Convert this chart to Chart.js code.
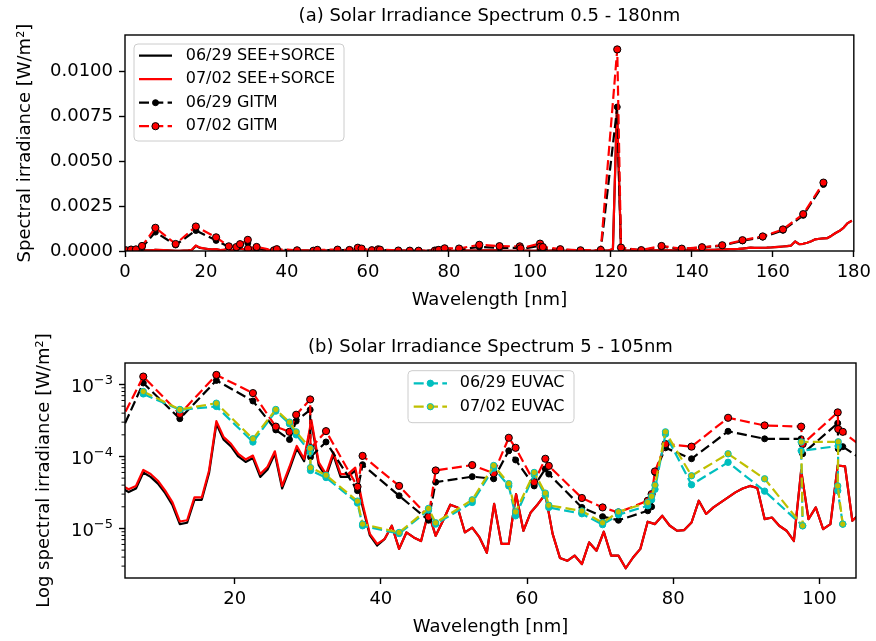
<!DOCTYPE html>
<html>
<head>
<meta charset="utf-8">
<title>Solar Irradiance Spectrum</title>
<script src="https://cdn.jsdelivr.net/npm/chart.js@4.4.1/dist/chart.umd.min.js"></script>
<style>
  html, body { margin: 0; padding: 0; background: #fff; }
  #wrap { position: relative; width: 876px; height: 641px; overflow: hidden; }
  .panel { position: absolute; left: 0; width: 876px; }
  #pa { top: 0; height: 320px; }
  #pb { top: 320px; height: 321px; }
  canvas { display: block; }
</style>
</head>
<body>
<div id="wrap">
  <div class="panel" id="pa"><canvas id="ca" width="876" height="320"></canvas></div>
  <div class="panel" id="pb"><canvas id="cb" width="876" height="321"></canvas></div>
</div>
<script>
// ---- 1 nm SEE+SORCE spectrum (bin centres, nm) ----
const seeWave = [
  0.5, 1.5, 2.5, 3.5, 4.5, 5.5, 6.5, 7.5, 8.5, 9.5,
  10.5, 11.5, 12.5, 13.5, 14.5, 15.5, 16.5, 17.5, 18.5, 19.5,
  20.5, 21.5, 22.5, 23.5, 24.5, 25.5, 26.5, 27.5, 28.5, 29.5,
  30.5, 31.5, 32.5, 33.5, 34.5, 35.5, 36.5, 37.5, 38.5, 39.5,
  40.5, 41.5, 42.5, 43.5, 44.5, 45.5, 46.5, 47.5, 48.5, 49.5,
  50.5, 51.5, 52.5, 53.5, 54.5, 55.5, 56.5, 57.5, 58.5, 59.5,
  60.5, 61.5, 62.5, 63.5, 64.5, 65.5, 66.5, 67.5, 68.5, 69.5,
  70.5, 71.5, 72.5, 73.5, 74.5, 75.5, 76.5, 77.5, 78.5, 79.5,
  80.5, 81.5, 82.5, 83.5, 84.5, 85.5, 86.5, 87.5, 88.5, 89.5,
  90.5, 91.5, 92.5, 93.5, 94.5, 95.5, 96.5, 97.5, 98.5, 99.5,
  100.5, 101.5, 102.5, 103.5, 104.5, 105.5, 106.5, 107.5, 108.5, 109.5,
  110.5, 111.5, 112.5, 113.5, 114.5, 115.5, 116.5, 117.5, 118.5, 119.5,
  120.5, 121.5, 122.5, 123.5, 124.5, 125.5, 126.5, 127.5, 128.5, 129.5,
  130.5, 131.5, 132.5, 133.5, 134.5, 135.5, 136.5, 137.5, 138.5, 139.5,
  140.5, 141.5, 142.5, 143.5, 144.5, 145.5, 146.5, 147.5, 148.5, 149.5,
  150.5, 151.5, 152.5, 153.5, 154.5, 155.5, 156.5, 157.5, 158.5, 159.5,
  160.5, 161.5, 162.5, 163.5, 164.5, 165.5, 166.5, 167.5, 168.5, 169.5,
  170.5, 171.5, 172.5, 173.5, 174.5, 175.5, 176.5, 177.5, 178.5, 179.5
];

// 06/29 SEE+SORCE irradiance [W/m^2]
const see0629 = [
  3e-7, 1.8e-6, 4.6e-6, 1.0e-5, 3.7e-5, 3.2e-5, 3.6e-5, 6.0e-5, 5.2e-5, 4.2e-5,
  3.1e-5, 2.1e-5, 1.15e-5, 1.2e-5, 2.5e-5, 2.5e-5, 5.9e-5, 2.85e-4, 1.71e-4, 1.38e-4,
  1.0e-4, 8.4e-5, 9.5e-5, 5.2e-5, 6.6e-5, 1.09e-4, 3.6e-5, 6.6e-5, 1.29e-4, 8.6e-5,
  2.95e-4, 7.6e-5, 5.2e-5, 1.05e-4, 5.2e-5, 5.2e-5, 6.4e-5, 2.0e-5, 8.0e-6, 5.8e-6,
  7.1e-6, 1.09e-5, 5.2e-6, 8.8e-6, 7.5e-6, 6.7e-6, 1.67e-5, 7.9e-6, 1.28e-5, 2.14e-5,
  1.96e-5, 8.8e-6, 1.03e-5, 7.5e-6, 4.6e-6, 2.19e-5, 6.1e-6, 6.1e-6, 3.0e-5, 9.3e-6,
  1.67e-5, 2.19e-5, 3.0e-5, 8.4e-6, 3.9e-6, 3.55e-6, 4.2e-6, 3.2e-6, 6.4e-6, 4.9e-6,
  9.0e-6, 4.2e-6, 4.2e-6, 2.8e-6, 3.95e-6, 5.2e-6, 1.24e-5, 1.15e-5, 1.5e-5, 1.1e-5,
  9.3e-6, 9.5e-6, 1.21e-5, 2.43e-5, 1.59e-5, 1.96e-5, 2.3e-5, 2.7e-5, 3.17e-5, 3.6e-5,
  3.9e-5, 3.65e-5, 1.35e-5, 1.42e-5, 1.09e-5, 9.3e-6, 6.7e-6, 6.4e-5, 1.35e-5, 1.96e-5,
  9.8e-6, 1.15e-5, 7.5e-5, 7.3e-5, 1.28e-5, 1.6e-5, 1.2e-5, 1.5e-5, 1.2e-5, 1.0e-5,
  1.0e-5, 1.0e-5, 1.0e-5, 1.1e-5, 1.2e-5, 1.5e-5, 1.6e-5, 2.0e-5, 2.2e-5, 3.5e-5,
  1.0e-4, 7.9e-3, 1.7e-4, 3.5e-5, 2.8e-5, 2.5e-5, 2.6e-5, 2.6e-5, 2.8e-5, 3.0e-5,
  3.8e-5, 3.2e-5, 3.2e-5, 3.4e-5, 3.6e-5, 4.0e-5, 3.8e-5, 4.0e-5, 4.4e-5, 4.8e-5,
  5.0e-5, 5.2e-5, 5.6e-5, 6.0e-5, 6.5e-5, 7.0e-5, 7.6e-5, 8.2e-5, 9.0e-5, 1.0e-4,
  1.08e-4, 1.15e-4, 1.35e-4, 1.6e-4, 1.85e-4, 1.75e-4, 1.75e-4, 1.8e-4, 1.85e-4, 1.95e-4,
  2.1e-4, 2.3e-4, 2.5e-4, 2.7e-4, 3.0e-4, 5.3e-4, 3.8e-4, 4.0e-4, 4.6e-4, 5.4e-4,
  6.5e-4, 6.8e-4, 7.0e-4, 7.2e-4, 8.5e-4, 1.0e-3, 1.12e-3, 1.3e-3, 1.55e-3, 1.68e-3
];

// 07/02 SEE+SORCE irradiance [W/m^2]
const see0702 = [
  3e-7, 2e-6, 5e-6, 1.1e-5, 4.0e-5, 3.5e-5, 3.9e-5, 6.5e-5, 5.7e-5, 4.6e-5,
  3.35e-5, 2.3e-5, 1.25e-5, 1.3e-5, 2.7e-5, 2.7e-5, 6.4e-5, 3.1e-4, 1.86e-4, 1.5e-4,
  1.09e-4, 9.1e-5, 1.03e-4, 5.7e-5, 7.2e-5, 1.18e-4, 3.9e-5, 7.2e-5, 1.4e-4, 9.3e-5,
  3.2e-4, 8.3e-5, 5.7e-5, 1.14e-4, 5.7e-5, 5.7e-5, 7.0e-5, 2.2e-5, 8.4e-6, 6.1e-6,
  7.1e-6, 1.09e-5, 5.2e-6, 8.8e-6, 7.5e-6, 6.7e-6, 1.67e-5, 7.9e-6, 1.28e-5, 2.14e-5,
  1.96e-5, 8.8e-6, 1.03e-5, 7.5e-6, 4.6e-6, 2.19e-5, 6.1e-6, 6.1e-6, 3.0e-5, 9.3e-6,
  1.67e-5, 2.19e-5, 3.0e-5, 8.4e-6, 3.9e-6, 3.55e-6, 4.2e-6, 3.2e-6, 6.4e-6, 4.9e-6,
  9.0e-6, 4.2e-6, 4.2e-6, 2.8e-6, 3.95e-6, 5.2e-6, 1.24e-5, 1.15e-5, 1.5e-5, 1.1e-5,
  9.3e-6, 9.5e-6, 1.21e-5, 2.43e-5, 1.59e-5, 1.96e-5, 2.3e-5, 2.7e-5, 3.17e-5, 3.6e-5,
  3.9e-5, 3.65e-5, 1.35e-5, 1.42e-5, 1.09e-5, 9.3e-6, 6.7e-6, 6.4e-5, 1.35e-5, 1.96e-5,
  9.8e-6, 1.15e-5, 7.5e-5, 7.3e-5, 1.28e-5, 1.6e-5, 1.2e-5, 1.5e-5, 1.2e-5, 1.0e-5,
  1.0e-5, 1.0e-5, 1.0e-5, 1.1e-5, 1.2e-5, 1.5e-5, 1.6e-5, 2.0e-5, 2.2e-5, 3.5e-5,
  1.1e-4, 8.0e-3, 1.8e-4, 3.5e-5, 2.8e-5, 2.5e-5, 2.6e-5, 2.6e-5, 2.8e-5, 3.0e-5,
  3.8e-5, 3.2e-5, 3.2e-5, 3.4e-5, 3.6e-5, 4.0e-5, 3.8e-5, 4.0e-5, 4.4e-5, 4.8e-5,
  5.0e-5, 5.2e-5, 5.6e-5, 6.0e-5, 6.5e-5, 7.0e-5, 7.6e-5, 8.2e-5, 9.0e-5, 1.0e-4,
  1.08e-4, 1.15e-4, 1.35e-4, 1.6e-4, 1.85e-4, 1.75e-4, 1.75e-4, 1.8e-4, 1.85e-4, 1.95e-4,
  2.1e-4, 2.3e-4, 2.5e-4, 2.7e-4, 3.0e-4, 5.3e-4, 3.8e-4, 4.0e-4, 4.6e-4, 5.4e-4,
  6.5e-4, 6.8e-4, 7.0e-4, 7.2e-4, 8.5e-4, 1.0e-3, 1.12e-3, 1.3e-3, 1.55e-3, 1.68e-3
];

// ---- GITM wavelength bins (centres / lines, nm), in drawing order ----
const gitmWave = [
  0.25, 1.5, 2.7, 4.2,
  7.5, 12.5, 17.5, 22.5, 25.63, 27.5, 28.415, 30.331, 30.378, 32.5,
  36.807, 37.5, 42.5, 46.522, 47.5, 52.5, 55.437, 57.5, 58.433, 60.976,
  62.5, 62.973, 67.5, 70.336, 72.5, 76.515, 77.041, 77.5, 78.936, 82.5,
  87.5, 92.5, 97.5, 97.702, 102.5, 102.572, 103.191,
  107.5, 112.5, 117.5, 121.57, 122.5, 127.5, 132.5, 137.5, 142.5,
  147.5, 152.5, 157.5, 162.5, 167.5, 172.5
];
const gitm0629 = [
  3e-5, 6e-5, 7e-5, 1.9e-4,
  1.05e-3, 3.35e-4, 1.14e-3, 5.9e-4, 2.34e-4, 1.72e-4, 3.1e-4, 4.45e-4, 9.8e-5, 1.59e-4,
  3.35e-5, 7.7e-5, 2.85e-5, 1.3e-5, 4.4e-5, 5.25e-5, 4.9e-5, 1.2e-4, 8.95e-5, 3.9e-5,
  6.7e-5, 5.7e-5, 1.96e-5, 1.46e-5, 1.3e-5, 1.76e-5, 2.0e-5, 6.0e-5, 1.32e-4, 9.3e-5,
  2.24e-4, 1.76e-4, 1.76e-4, 1.09e-4, 2.9e-4, 1.28e-4, 1.37e-4,
  7e-5, 3e-5, 5e-5, 8.0e-3, 1.5e-4, 4e-5, 2.4e-4, 1.1e-4, 1.9e-4,
  3.0e-4, 5.6e-4, 7.7e-4, 1.15e-3, 1.98e-3, 3.7e-3
];
const gitm0702 = [
  4e-5, 8e-5, 9e-5, 2.8e-4,
  1.29e-3, 3.9e-4, 1.36e-3, 7.6e-4, 2.6e-4, 2.2e-4, 3.8e-4, 6.2e-4, 1.3e-4, 2.25e-4,
  3.8e-5, 1.02e-4, 3.9e-5, 1.45e-5, 6.4e-5, 7.6e-5, 5.85e-5, 1.82e-4, 1.32e-4, 4.4e-5,
  9.3e-5, 7.4e-5, 2.65e-5, 1.96e-5, 1.67e-5, 2.43e-5, 3.0e-5, 6.2e-5, 1.49e-4, 1.37e-4,
  3.45e-4, 2.7e-4, 2.6e-4, 1.49e-4, 4.1e-4, 2.4e-4, 2.2e-4,
  1.0e-4, 4e-5, 6e-5, 1.12e-2, 1.9e-4, 5e-5, 2.8e-4, 1.3e-4, 2.1e-4,
  3.2e-4, 6.0e-4, 8.1e-4, 1.2e-3, 2.05e-3, 3.8e-3
];

// ---- EUVAC 37-bin model (nm), in drawing order ----
const euvacWave = [
  7.5, 12.5, 17.5, 22.5, 25.63, 27.5, 28.415, 30.331, 30.378, 32.5,
  36.807, 37.5, 42.5, 46.522, 47.5, 52.5, 55.437, 57.5, 58.433, 60.976,
  62.5, 62.973, 67.5, 70.336, 72.5, 76.515, 77.041, 77.5, 78.936, 82.5,
  87.5, 92.5, 97.702, 97.5, 102.572, 102.5, 103.191
];
const euvac0629 = [
  7.4e-4, 4.45e-4, 4.96e-4, 1.59e-4, 4.27e-4, 2.85e-4, 2.0e-4, 1.15e-4, 6.4e-5, 5.1e-5,
  2.25e-5, 1.09e-5, 8.5e-6, 1.8e-5, 1.15e-5, 2.3e-5, 6.9e-5, 3.9e-5, 1.5e-5, 5.6e-5,
  2.85e-5, 1.96e-5, 1.6e-5, 1.13e-5, 1.55e-5, 2.07e-5, 2.5e-5, 3.5e-5, 2.05e-4, 4.05e-5,
  8.3e-5, 3.3e-5, 1.09e-5, 1.2e-4, 1.4e-4, 3.35e-5, 1.15e-5
];
const euvac0702 = [
  8.0e-4, 4.5e-4, 5.5e-4, 1.76e-4, 4.5e-4, 3.0e-4, 2.2e-4, 1.3e-4, 7.0e-5, 5.5e-5,
  2.4e-5, 1.15e-5, 8.8e-6, 1.9e-5, 1.2e-5, 2.5e-5, 7.5e-5, 4.2e-5, 1.7e-5, 6.0e-5,
  3.1e-5, 2.1e-5, 1.75e-5, 1.2e-5, 1.7e-5, 2.3e-5, 2.8e-5, 4.0e-5, 2.2e-4, 5.4e-5,
  1.09e-4, 4.9e-5, 1.09e-5, 1.59e-4, 1.6e-4, 3.9e-5, 1.15e-5
];

// ---- axis tick settings ----
const linTicksX = [0, 20, 40, 60, 80, 100, 120, 140, 160, 180];
const linTicksY = [0, 0.0025, 0.005, 0.0075, 0.01];
const logTicksX = [20, 40, 60, 80, 100];
const logDecades = [-6, -5, -4, -3];

// ---------------------------------------------------------------
const FONT = "'DejaVu Sans', sans-serif";
Chart.defaults.font.family = FONT;
Chart.defaults.color = '#000';

const CYAN = '#00bfbf';
const OLIVE = '#bfbf00';
const DASH = [10, 4.3];

function points(xs, ys) {
  return xs.map((x, i) => ({ x: x, y: ys[i] }));
}

function solid(label, xs, ys, color, order) {
  return {
    label, data: points(xs, ys), order,
    borderColor: color, backgroundColor: color, borderWidth: 2.2,
    pointRadius: 0, pointHoverRadius: 0, fill: false, tension: 0,
    borderJoinStyle: 'round', clip: 0
  };
}

function dashed(label, xs, ys, color, face, edge, radius, order) {
  return {
    label, data: points(xs, ys), order,
    borderColor: color, backgroundColor: face, borderWidth: 2.2, borderDash: DASH,
    pointRadius: radius, pointHoverRadius: radius,
    pointBackgroundColor: face, pointBorderColor: edge, pointBorderWidth: 1,
    fill: false, tension: 0, borderJoinStyle: 'round', clip: 0
  };
}

// black box around the plotting area
const framePlugin = {
  id: 'frame',
  afterDraw(chart) {
    const { ctx, chartArea: a } = chart;
    ctx.save();
    ctx.strokeStyle = '#000';
    ctx.lineWidth = 1.4;
    ctx.strokeRect(a.left, a.top, a.right - a.left, a.bottom - a.top);
    ctx.restore();
  }
};

// log axis: short unlabelled ticks between decades, and 10^n labels
const logAxisPlugin = {
  id: 'logAxis',
  afterDraw(chart) {
    const s = chart.scales.y;
    if (!s || s.type !== 'logarithmic') return;
    const ctx = chart.ctx;
    ctx.save();
    ctx.strokeStyle = '#000';
    ctx.fillStyle = '#000';
    ctx.lineWidth = 1;
    s.ticks.forEach(t => {
      const y = s.getPixelForValue(t.value);
      if (!t.major) {
        ctx.beginPath();
        ctx.moveTo(s.right, y);
        ctx.lineTo(s.right - 3.5, y);
        ctx.stroke();
        return;
      }
      const base = '10';
      const exp = '\u2212' + String(Math.abs(Math.round(Math.log10(t.value))));
      ctx.font = '18px ' + FONT;
      const wb = ctx.measureText(base).width;
      ctx.font = '13px ' + FONT;
      const we = ctx.measureText(exp).width;
      const xr = s.right - 6 - 6;
      ctx.textBaseline = 'alphabetic';
      ctx.textAlign = 'left';
      ctx.font = '18px ' + FONT;
      ctx.fillText(base, xr - we - wb, y + 7.5);
      ctx.font = '13px ' + FONT;
      ctx.fillText(exp, xr - we, y - 0.5);
    });
    ctx.restore();
  }
};

// legend box drawn inside the plotting area
const boxLegendPlugin = {
  id: 'boxLegend',
  afterDraw(chart, args, o) {
    if (!o || !o.items) return;
    const ctx = chart.ctx;
    ctx.save();
    ctx.beginPath();
    ctx.roundRect(o.x, o.y, o.w, o.h, 4);
    ctx.fillStyle = 'rgba(255,255,255,0.8)';
    ctx.fill();
    ctx.strokeStyle = '#cccccc';
    ctx.lineWidth = 1;
    ctx.stroke();
    ctx.font = '16px ' + FONT;
    ctx.textBaseline = 'middle';
    ctx.textAlign = 'left';
    o.items.forEach((di, k) => {
      const ds = chart.data.datasets[di];
      const cy = o.y + o.firstRow + k * o.rowGap;
      const x0 = o.x + o.h0, x1 = o.x + o.h1;
      ctx.beginPath();
      ctx.setLineDash(ds.borderDash || []);
      ctx.strokeStyle = ds.borderColor;
      ctx.lineWidth = ds.borderWidth;
      ctx.moveTo(x0, cy);
      ctx.lineTo(x1, cy);
      ctx.stroke();
      ctx.setLineDash([]);
      if (ds.pointRadius > 0) {
        ctx.beginPath();
        ctx.arc((x0 + x1) / 2, cy, ds.pointRadius, 0, Math.PI * 2);
        ctx.fillStyle = ds.pointBackgroundColor;
        ctx.fill();
        ctx.lineWidth = ds.pointBorderWidth;
        ctx.strokeStyle = ds.pointBorderColor;
        ctx.stroke();
      }
      ctx.fillStyle = '#000';
      ctx.fillText(ds.label, o.x + o.textX, cy);
    });
    ctx.restore();
  }
};

function axisGrid(tickColor) {
  return {
    display: true, drawOnChartArea: false, drawTicks: true,
    tickLength: 6, tickWidth: 1.4, tickColor: tickColor || '#000'
  };
}

const tickFont = { family: FONT, size: 18 };
const labelFont = { family: FONT, size: 18 };

// ---------------- (a) linear panel ----------------
new Chart(document.getElementById('ca'), {
  type: 'line',
  data: {
    datasets: [
      solid('06/29 SEE+SORCE', seeWave, see0629, '#000000', 4),
      solid('07/02 SEE+SORCE', seeWave, see0702, '#ff0000', 3),
      dashed('06/29 GITM', gitmWave, gitm0629, '#000000', '#000000', '#000000', 3, 2),
      dashed('07/02 GITM', gitmWave, gitm0702, '#ff0000', '#ff0000', '#000000', 3.6, 1)
    ]
  },
  options: {
    responsive: false, animation: false, events: [],
    layout: { padding: { left: 0, right: 20, top: 0, bottom: 0 } },
    plugins: {
      legend: { display: false },
      tooltip: { enabled: false },
      title: {
        display: true, fullSize: false,
        text: '(a) Solar Irradiance Spectrum 0.5 - 180nm',
        font: { family: FONT, size: 18, weight: 'normal' }, color: '#000',
        padding: { top: 6, bottom: 7.4 }
      },
      boxLegend: { items: [0, 1, 2, 3], x: 134, y: 44, w: 210, h: 97,
                   firstRow: 11.7, rowGap: 23.5, h0: 5, h1: 38, textX: 51.7 }
    },
    scales: {
      x: {
        type: 'linear', min: 0, max: 180,
        afterBuildTicks: s => { s.ticks = linTicksX.map(v => ({ value: v })); },
        ticks: { font: tickFont, color: '#000', padding: 5, maxRotation: 0, autoSkip: false },
        grid: axisGrid(), border: { display: false },
        title: { display: true, text: 'Wavelength [nm]', font: labelFont, color: '#000',
                 padding: { top: 0, bottom: 9.2 } },
        afterFit: s => { s.height = 69; }
      },
      y: {
        type: 'linear', min: 0, max: 0.012,
        afterBuildTicks: s => { s.ticks = linTicksY.map(v => ({ value: v })); },
        ticks: { font: tickFont, color: '#000', padding: 6, autoSkip: false,
                 callback: v => Number(v).toFixed(4) },
        grid: axisGrid(), border: { display: false },
        title: { display: true, text: 'Spectral irradiance [W/m²]', font: labelFont, color: '#000',
                 padding: { top: 15, bottom: 0 } },
        afterFit: s => { s.width = 125; }
      }
    }
  },
  plugins: [framePlugin, boxLegendPlugin]
});

// ---------------- (b) logarithmic panel ----------------
function isDecade(v) {
  const e = Math.log10(v);
  return Math.abs(e - Math.round(e)) < 1e-6;
}

const logMin = 2.05e-6, logMax = 1.99e-3;

new Chart(document.getElementById('cb'), {
  type: 'line',
  data: {
    datasets: [
      solid('06/29 SEE+SORCE', seeWave, see0629, '#000000', 6),
      solid('07/02 SEE+SORCE', seeWave, see0702, '#ff0000', 5),
      dashed('06/29 GITM', gitmWave, gitm0629, '#000000', '#000000', '#000000', 3, 4),
      dashed('07/02 GITM', gitmWave, gitm0702, '#ff0000', '#ff0000', '#000000', 3.6, 3),
      dashed('06/29 EUVAC', euvacWave, euvac0629, CYAN, CYAN, CYAN, 3.2, 2),
      dashed('07/02 EUVAC', euvacWave, euvac0702, OLIVE, OLIVE, CYAN, 3.2, 1)
    ]
  },
  options: {
    responsive: false, animation: false, events: [],
    layout: { padding: { left: 0, right: 20, top: 0, bottom: 0 } },
    plugins: {
      legend: { display: false },
      tooltip: { enabled: false },
      title: {
        display: true, fullSize: false,
        text: '(b) Solar Irradiance Spectrum 5 - 105nm',
        font: { family: FONT, size: 18, weight: 'normal' }, color: '#000',
        padding: { top: 17, bottom: 4.4 }
      },
      boxLegend: { items: [4, 5], x: 408, y: 50.7, w: 166, h: 52,
                   firstRow: 12.6, rowGap: 23.4, h0: 5.7, h1: 39, textX: 51.7 }
    },
    scales: {
      x: {
        type: 'linear', min: 5, max: 105,
        afterBuildTicks: s => { s.ticks = logTicksX.map(v => ({ value: v })); },
        ticks: { font: tickFont, color: '#000', padding: 5, maxRotation: 0, autoSkip: false },
        grid: axisGrid(), border: { display: false },
        title: { display: true, text: 'Wavelength [nm]', font: labelFont, color: '#000',
                 padding: { top: 0, bottom: 3.2 } },
        afterFit: s => { s.height = 63; }
      },
      y: {
        type: 'logarithmic', min: logMin, max: logMax,
        afterBuildTicks: s => {
          const t = [];
          logDecades.forEach(e => {
            for (let m = 1; m <= 9; m++) {
              const v = m * Math.pow(10, e);
              if (v >= logMin && v <= logMax) t.push({ value: v, major: m === 1 });
            }
          });
          s.ticks = t;
        },
        ticks: { font: tickFont, color: '#000', padding: 6, autoSkip: false,
                 callback: () => '' },
        grid: {
          display: true, drawOnChartArea: false, drawTicks: true,
          tickLength: 6, tickWidth: 1.4,
          tickColor: c => (c.tick && isDecade(c.tick.value)) ? '#000' : 'rgba(0,0,0,0)'
        },
        border: { display: false },
        title: { display: true, text: 'Log spectral irradiance [W/m²]', font: labelFont, color: '#000',
                 padding: { top: 34, bottom: 0 } },
        afterFit: s => { s.width = 125; }
      }
    }
  },
  plugins: [framePlugin, logAxisPlugin, boxLegendPlugin]
});
</script>
</body>
</html>
